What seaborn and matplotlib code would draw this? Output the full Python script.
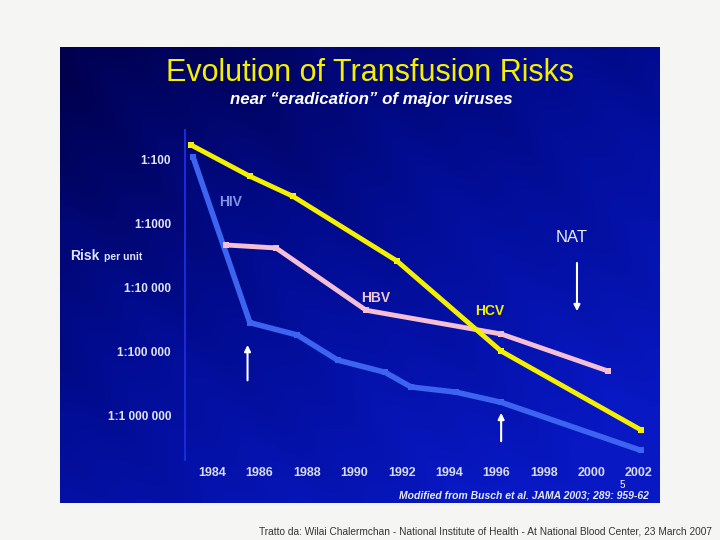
import numpy as np
import matplotlib
matplotlib.use("Agg")
import matplotlib.pyplot as plt
import seaborn as sns
from matplotlib.colors import LinearSegmentedColormap

# -------------------------------
# Data (risk per unit = 1 : N)
# -------------------------------
hcv_years = [1983.1, 1985.6, 1987.4, 1991.8, 1996.2, 2002.1]
hcv_n = [60, 186, 380, 3900, 100000, 1700000]

hbv_years = [1984.6, 1986.7, 1990.5, 1996.2, 2000.7]
hbv_n = [2200, 2450, 23000, 54000, 204000]

hiv_years = [1983.2, 1985.6, 1987.6, 1989.3, 1991.3, 1992.4, 1994.3, 1996.2, 2002.1]
hiv_n = [93, 36000, 56000, 138000, 214000, 363000, 437000, 630000, 3550000]

year_ticks = [1984, 1986, 1988, 1990, 1992, 1994, 1996, 1998, 2000, 2002]
risk_ticks = [100, 1000, 10000, 100000, 1000000]
risk_labels = ["1:100", "1:1000", "1:10 000", "1:100 000", "1:1 000 000"]

W, H = 720, 540
sns.set_theme(style="white")
plt.rcParams['font.family'] = ['Liberation Sans', 'DejaVu Sans']

fig = plt.figure(figsize=(7.2, 5.4), dpi=100, facecolor="#f5f6f4")

def px_rect(x0, y0, x1, y1):
    return [x0 / W, 1 - y1 / H, (x1 - x0) / W, (y1 - y0) / H]

# -------------------------------
# Slide background (blue gradient with soft streaks)
# -------------------------------
bg = fig.add_axes(px_rect(60, 47, 660, 503))
gy, gx = np.mgrid[0:1:300j, 0:1:400j]
grad = 0.5 * gx + 0.65 * gy + 0.03 * np.sin(gx * 18 - gy * 11) + 0.02 * np.sin(gx * 47 - gy * 30)
grad = np.clip(grad, 0, 1)
cmap = LinearSegmentedColormap.from_list("slide", ["#00004c", "#020c92", "#0818c2"])
bg.imshow(grad, cmap=cmap, aspect="auto", extent=[0, 1, 0, 1], origin="upper")
bg.set_axis_off()

# -------------------------------
# Data axes
# -------------------------------
ax = fig.add_axes(px_rect(185, 130, 660, 460))
ax.patch.set_alpha(0)
ax.set_yscale("log")
x0 = 1984 + (185 - 212) / 23.7
x1 = 1984 + (660 - 212) / 23.7
ax.set_xlim(x0, x1)
ax.set_ylim(10 ** 6.70, 10 ** 1.547)

sns.lineplot(x=hiv_years, y=hiv_n, ax=ax, color="#3d64f0", lw=4,
             marker="s", markersize=5, markeredgewidth=0)
sns.lineplot(x=hbv_years, y=hbv_n, ax=ax, color="#f6c0d4", lw=3.5,
             marker="s", markersize=5, markeredgewidth=0)
sns.lineplot(x=hcv_years, y=hcv_n, ax=ax, color="#f5f000", lw=3.5,
             marker="s", markersize=5, markeredgewidth=0)

for s in ["top", "right", "bottom"]:
    ax.spines[s].set_visible(False)
ax.spines["left"].set_color("#1a2ad8")
ax.spines["left"].set_linewidth(1.5)

ax.set_xticks(year_ticks)
ax.set_xticklabels([str(y) for y in year_ticks], fontsize=9, fontweight="bold", color="#d8dcf0")
ax.set_yticks(risk_ticks)
ax.set_yticklabels(risk_labels, fontsize=8.5, fontweight="bold", color="#e0e4f4")
ax.minorticks_off()
ax.tick_params(axis="x", length=0, pad=5)
ax.tick_params(axis="y", length=0, pad=10)

# -------------------------------
# Annotations
# -------------------------------
arrow = dict(arrowstyle="-|>", color="white", lw=1.5, mutation_scale=9)
ax.annotate("", xy=(1985.5, 10 ** 4.86), xytext=(1985.5, 10 ** 5.5), arrowprops=arrow)
ax.annotate("", xy=(1996.2, 10 ** 5.92), xytext=(1996.2, 10 ** 6.45), arrowprops=arrow)
ax.annotate("", xy=(1999.4, 10 ** 4.42), xytext=(1999.4, 10 ** 3.58), arrowprops=arrow)

fig.text(219 / W, 1 - 202 / H, "HIV", color="#7f94e6", fontsize=10, fontweight="bold", va="center")
fig.text(361 / W, 1 - 298 / H, "HBV", color="#f0c8dc", fontsize=10, fontweight="bold", va="center")
fig.text(475 / W, 1 - 311 / H, "HCV", color="#f5f000", fontsize=10, fontweight="bold", va="center")
fig.text(556 / W, 1 - 238 / H, "NAT", color="#e8ecf8", fontsize=12, va="center")

fig.text(70 / W, 1 - 256 / H, "Risk", color="#dfe4f6", fontsize=10, fontweight="bold", va="center")
fig.text(104 / W, 1 - 257 / H, "per unit", color="#dfe4f6", fontsize=7.5, fontweight="bold", va="center")

# title block
fig.text(370 / W, 1 - 73 / H, "Evolution of Transfusion Risks", color="#f5f000",
         fontsize=22, ha="center", va="center")
fig.text(371 / W, 1 - 100 / H, "near \u201ceradication\u201d of major viruses", color="white",
         fontsize=12.2, fontweight="bold", style="italic", ha="center", va="center")

fig.text(622 / W, 1 - 485 / H, "5", color="white", fontsize=7, ha="center", va="center")
fig.text(649 / W, 1 - 496 / H, "Modified from Busch et al. JAMA 2003; 289: 959-62", color="#e6e8f4",
         fontsize=7.5, fontweight="bold", style="italic", ha="right", va="center")

fig.text(712 / W, 1 - 531 / H,
         "Tratto da: Wilai Chalermchan - National Institute of Health - At National Blood Center, 23 March 2007",
         color="#333333", fontsize=7.3, ha="right", va="center")

fig.savefig("out.png", dpi=100, facecolor=fig.get_facecolor())
